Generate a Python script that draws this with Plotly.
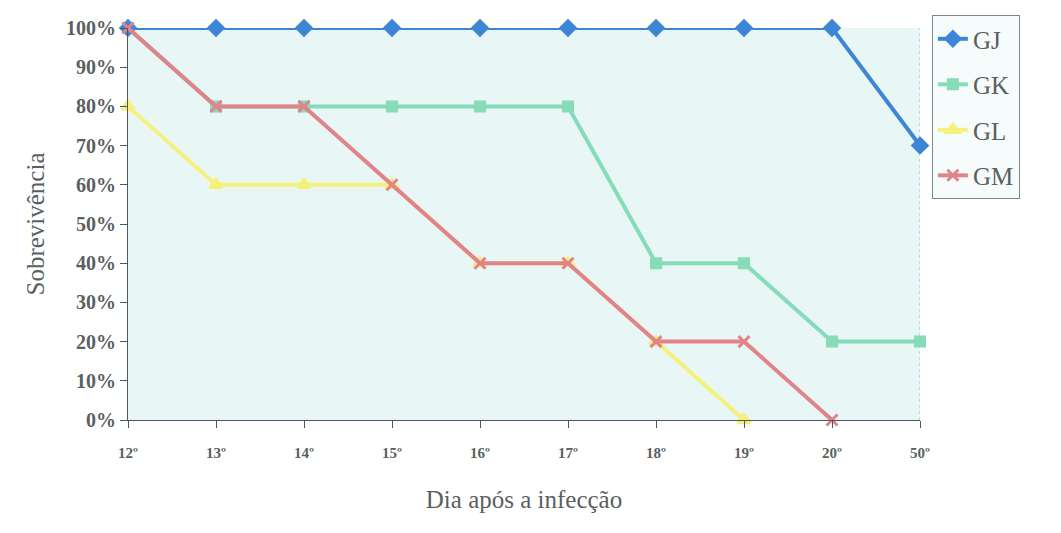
import plotly.graph_objects as go

# Survival per group, by day after infection
days = ["12º", "13º", "14º", "15º", "16º", "17º", "18º", "19º", "20º", "50º"]
gj = [1.00, 1.00, 1.00, 1.00, 1.00, 1.00, 1.00, 1.00, 1.00, 0.70]
gk = [1.00, 0.80, 0.80, 0.80, 0.80, 0.80, 0.40, 0.40, 0.20, 0.20]
gl = [0.80, 0.60, 0.60, 0.60, 0.40, 0.40, 0.20, 0.00, None, None]
gm = [1.00, 0.80, 0.80, 0.60, 0.40, 0.40, 0.20, 0.20, 0.00, None]
y_ticks = [0, 0.1, 0.2, 0.3, 0.4, 0.5, 0.6, 0.7, 0.8, 0.9, 1.0]
y_labels = ["0%", "10%", "20%", "30%", "40%", "50%", "60%", "70%", "80%", "90%", "100%"]

serif = "Liberation Serif, Times New Roman, serif"
text_col = "#5a5f5f"
axis_col = "#4a5a60"

# (name, values, colour, symbol, size, legend rank); green drawn first so the
# other lines sit on top where they overlap
series = [
    ("GK", gk, "#86dcb8", "square", 9, 2),
    ("GJ", gj, "#3d85d6", "diamond", 11, 1),
    ("GL", gl, "#f6f07c", "triangle-up", 11, 3),
    ("GM", gm, "#e0848a", "x-thin", 11, 4),
]

x_idx = list(range(len(days)))
fig = go.Figure()
for name, vals, col, sym, size, rank in series:
    fig.add_trace(go.Scatter(
        x=x_idx, y=vals, name=name, mode="lines+markers",
        line=dict(color=col, width=4),
        marker=dict(symbol=sym, size=size, color=col,
                    line=dict(color=col, width=3)),
        legendgroup=name, legendrank=rank, cliponaxis=False,
    ))

fig.update_layout(
    width=1061, height=533,
    margin=dict(l=128, r=141, t=28, b=113),
    paper_bgcolor="white",
    plot_bgcolor="#e9f6f6",
    font=dict(family=serif, color=text_col),
    showlegend=True,
    legend=dict(
        x=1.015, y=1.033, xanchor="left", yanchor="top",
        traceorder="grouped",
        bgcolor="#f6fbfb", bordercolor="#7a8a8a", borderwidth=1,
        font=dict(family=serif, size=25, color=text_col),
        tracegroupgap=10,
    ),
    xaxis=dict(
        range=[0, len(days) - 1],
        tickmode="array", tickvals=x_idx, ticktext=days,
        ticks="outside", ticklen=7, tickcolor=axis_col,
        ticklabelstandoff=12,
        tickfont=dict(family=serif, size=15, color=text_col, weight="bold"),
        showline=True, linecolor=axis_col, linewidth=1,
        showgrid=False, zeroline=False,
        title=dict(text="Dia após a infecção", standoff=30,
                   font=dict(family=serif, size=25, color=text_col)),
    ),
    yaxis=dict(
        range=[0, 1],
        tickmode="array", tickvals=y_ticks, ticktext=y_labels,
        ticks="outside", ticklen=7, tickcolor=axis_col,
        tickfont=dict(family=serif, size=20, color=text_col, weight="bold"),
        showline=True, linecolor=axis_col, linewidth=1,
        showgrid=False, zeroline=False,
        title=dict(text="Sobrevivência", standoff=14,
                   font=dict(family=serif, size=25, color=text_col)),
    ),
    shapes=[
        dict(type="line", xref="x", yref="paper", x0=len(days) - 1, x1=len(days) - 1,
             y0=0, y1=1, line=dict(color="#9ab8bb", width=1, dash="dot"), layer="below"),
    ],
)

fig.write_html("out.html")
